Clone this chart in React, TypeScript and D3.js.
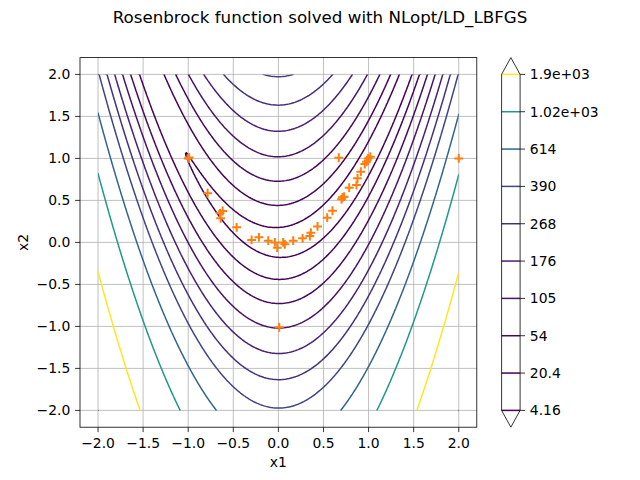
import React, { useMemo } from "react";
import * as d3 from "d3";

const TITLE = "Rosenbrock function solved with NLopt/LD_LBFGS";
const X_LABEL = "x1";
const Y_LABEL = "x2";
const X_TICKS = [-2, -1.5, -1, -0.5, 0, 0.5, 1, 1.5, 2];
const Y_TICKS = [-2, -1.5, -1, -0.5, 0, 0.5, 1, 1.5, 2];

// contour levels and their colorbar labels
const LEVELS = [4.16, 20.4, 54, 105, 176, 268, 390, 614, 1020, 1900];
const LEVEL_LABELS = ["4.16", "20.4", "54", "105", "176", "268", "390", "614", "1.02e+03", "1.9e+03"];

// evaluated points of the optimizer (orange +)
const POINTS_X1 = [
  -1.0, -0.99, -0.785, -0.648, -0.618, -0.64, -0.463, -0.297, -0.216, -0.113,
  -0.039, -0.013, 0.053, 0.072, 0.164, 0.268, 0.349, 0.36, 0.434, 0.541,
  0.6, 0.711, 0.729, 0.7, 0.785, 0.866, 0.877, 0.914, 0.958, 0.977,
  0.995, 1.02, 0.67, 2.0, 0.01,
];
const POINTS_X2 = [
  1.0, 1.01, 0.585, 0.346, 0.374, 0.287, 0.18, 0.029, 0.06, 0.02,
  0.0, -0.063, 0.0, -0.023, 0.02, 0.049, 0.076, 0.116, 0.19, 0.294,
  0.377, 0.537, 0.544, 0.513, 0.651, 0.683, 0.763, 0.842, 0.933, 0.96,
  1.0, 1.02, 1.008, 1.0, -1.01,
];

const DOMAIN_MIN = -2;
const DOMAIN_MAX = 2;
const GRID_N = 201;

function rosenbrock(a: number, b: number) {
  return (1 - a) * (1 - a) + 100 * (b - a * a) * (b - a * a);
}

const FONT = "DejaVu Sans, Liberation Sans, sans-serif";
const fmtTick = (v: number) => (v < 0 ? "\u2212" : "") + Math.abs(v).toFixed(1);

export default function App() {
  const W = 640, H = 480;
  const left = 80, right = 476.8, top = 57.6, bottom = 427.2;
  const x = d3.scaleLinear().domain([-2.2, 2.2]).range([left, right]);
  const y = d3.scaleLinear().domain([-2.2, 2.2]).range([bottom, top]);
  const colorNorm = d3.scaleLinear().domain([d3.min(LEVELS)!, d3.max(LEVELS)!]).range([0, 1]);
  const color = (v: number) => d3.interpolateViridis(colorNorm(v));

  const contourPaths = useMemo(() => {
    const n = GRID_N;
    const step = (DOMAIN_MAX - DOMAIN_MIN) / (n - 1);
    const values: number[] = new Array(n * n);
    for (let j = 0; j < n; j++) {
      for (let i = 0; i < n; i++) {
        values[j * n + i] = rosenbrock(DOMAIN_MIN + i * step, DOMAIN_MIN + j * step);
      }
    }
    const gen = d3.contours().size([n, n]).thresholds(LEVELS);
    const cs = gen(values);
    // find the extreme coordinates (the padded border of the grid)
    let minX = Infinity, maxX = -Infinity, minY = Infinity, maxY = -Infinity;
    for (const c of cs) for (const poly of c.coordinates) for (const ring of poly) for (const p of ring) {
      if (p[0] < minX) minX = p[0];
      if (p[0] > maxX) maxX = p[0];
      if (p[1] < minY) minY = p[1];
      if (p[1] > maxY) maxY = p[1];
    }
    const eps = 1e-9;
    const onB = (a: number[], b: number[]) =>
      (Math.abs(a[0] - b[0]) < eps && (Math.abs(a[0] - minX) < eps || Math.abs(a[0] - maxX) < eps)) ||
      (Math.abs(a[1] - b[1]) < eps && (Math.abs(a[1] - minY) < eps || Math.abs(a[1] - maxY) < eps));
    const px = (c: number) => x(DOMAIN_MIN + (c - 0.5) * step);
    const py = (c: number) => y(DOMAIN_MIN + (c - 0.5) * step);
    return cs.map((c) => {
      let d = "";
      const flush = (line: number[][]) => {
        if (line.length < 2) return;
        line.forEach((p, k) => {
          d += (k === 0 ? "M" : "L") + px(p[0]).toFixed(2) + "," + py(p[1]).toFixed(2);
        });
      };
      for (const poly of c.coordinates) {
        for (const ring of poly) {
          let cur: number[][] = [];
          for (let k = 1; k < ring.length; k++) {
            const a = ring[k - 1], b = ring[k];
            if (onB(a, b)) {
              flush(cur);
              cur = [];
            } else {
              if (cur.length === 0) cur.push(a);
              cur.push(b);
            }
          }
          flush(cur);
        }
      }
      return { value: c.value, d };
    });
  }, []);

  // colorbar geometry
  const cbL = 501.6, cbR = 520.1, cbTop = 57.6, cbBot = 427.2, ext = 16.8;
  const cbMid = (cbL + cbR) / 2;
  const cbY = d3.scaleLinear().domain([0, LEVELS.length - 1]).range([cbBot - ext, cbTop + ext]);

  return (
    <svg width={W} height={H} style={{ display: "block", position: "absolute", left: 0, top: 0, background: "#fff" }} fontFamily={FONT}>
      <defs>
        <clipPath id="dataClip">
          <rect x={x(DOMAIN_MIN)} y={y(DOMAIN_MAX)} width={x(DOMAIN_MAX) - x(DOMAIN_MIN)} height={y(DOMAIN_MIN) - y(DOMAIN_MAX)} />
        </clipPath>
      </defs>
      <rect x={0} y={0} width={W} height={H} fill="#fff" />
      <text x={320} y={23} textAnchor="middle" fontSize={16.7} fill="#000">{TITLE}</text>

      {/* grid */}
      {X_TICKS.map((t) => (
        <line key={"gx" + t} x1={x(t)} x2={x(t)} y1={top} y2={bottom} stroke="#b0b0b0" strokeWidth={0.8} />
      ))}
      {Y_TICKS.map((t) => (
        <line key={"gy" + t} x1={left} x2={right} y1={y(t)} y2={y(t)} stroke="#b0b0b0" strokeWidth={0.8} />
      ))}

      {/* contours */}
      <g clipPath="url(#dataClip)">
        {contourPaths.map((c) => (
          <path key={"c" + c.value} d={c.d} fill="none" stroke={color(c.value)} strokeWidth={1.5} strokeLinejoin="round" strokeLinecap="round" />
        ))}
      </g>

      {/* points */}
      {POINTS_X1.map((v, i) => {
        const cx = x(v), cy = y(POINTS_X2[i]);
        const s = 4.4;
        return (
          <path key={"p" + i} d={`M${cx - s},${cy}H${cx + s}M${cx},${cy - s}V${cy + s}`} stroke="#ff7f0e" strokeWidth={2} fill="none" />
        );
      })}

      {/* spines */}
      <rect x={left} y={top} width={right - left} height={bottom - top} fill="none" stroke="#000" strokeWidth={0.8} />

      {/* x ticks */}
      {X_TICKS.map((t) => (
        <g key={"xt" + t}>
          <line x1={x(t)} x2={x(t)} y1={bottom} y2={bottom + 4.9} stroke="#000" strokeWidth={0.8} />
          <text x={x(t)} y={447.5} textAnchor="middle" fontSize={13.9} fill="#000">{fmtTick(t)}</text>
        </g>
      ))}
      <text x={(left + right) / 2} y={466.5} textAnchor="middle" fontSize={13.9} fill="#000">{X_LABEL}</text>

      {/* y ticks */}
      {Y_TICKS.map((t) => (
        <g key={"yt" + t}>
          <line x1={left - 4.9} x2={left} y1={y(t)} y2={y(t)} stroke="#000" strokeWidth={0.8} />
          <text x={70.3} y={y(t) + 5} textAnchor="end" fontSize={13.9} fill="#000">{fmtTick(t)}</text>
        </g>
      ))}
      <text transform={`translate(28,${(top + bottom) / 2}) rotate(-90)`} textAnchor="middle" fontSize={13.9} fill="#000">{Y_LABEL}</text>

      {/* colorbar */}
      {LEVELS.map((v, i) => (
        <line key={"cbl" + i} x1={cbL} x2={cbR} y1={cbY(i)} y2={cbY(i)} stroke={color(v)} strokeWidth={1.5} />
      ))}
      <path
        d={`M${cbL},${cbTop + ext}L${cbMid},${cbTop}L${cbR},${cbTop + ext}L${cbR},${cbBot - ext}L${cbMid},${cbBot}L${cbL},${cbBot - ext}Z`}
        fill="none" stroke="#000" strokeWidth={0.8}
      />
      {LEVEL_LABELS.map((lab, i) => (
        <g key={"cbt" + i}>
          <line x1={cbR} x2={cbR + 4.9} y1={cbY(i)} y2={cbY(i)} stroke="#000" strokeWidth={0.8} />
          <text x={529.8} y={cbY(i) + 5} fontSize={13.9} fill="#000">{lab}</text>
        </g>
      ))}
    </svg>
  );
}
